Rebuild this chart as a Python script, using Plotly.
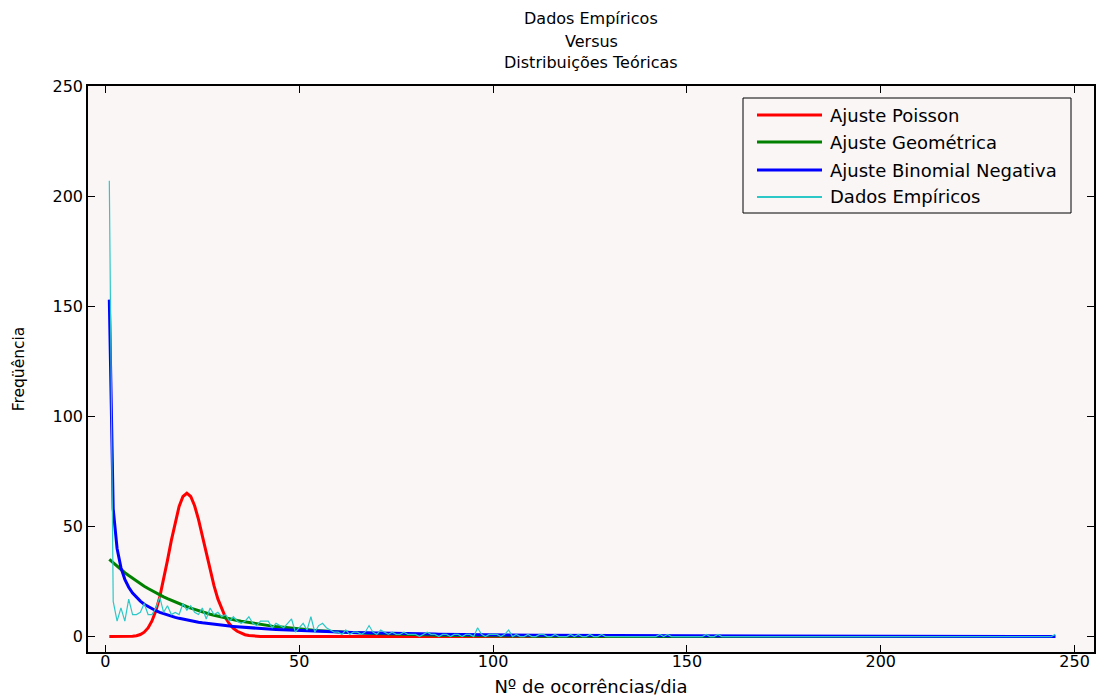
import plotly.graph_objects as go

# ---------------- data ----------------
x_vals = list(range(1, 246))

empirical = [
    207, 16, 7, 13, 7, 17, 10, 10, 11, 15,
    10, 10, 13, 18, 11, 14, 10, 11, 10, 15,
    12, 14, 11, 10, 13, 8, 13, 10, 11, 9,
    10, 7, 9, 7, 6, 7, 9, 6, 5, 7,
    7, 7, 4, 6, 5, 4, 6, 8, 2, 4,
    6, 3, 9, 2, 5, 6, 4, 3, 2, 2,
    1, 3, 1, 2, 2, 1, 2, 5, 2, 1,
    3, 2, 1, 2, 1, 1, 2, 1, 1, 1,
    0, 1, 2, 1, 1, 0, 1, 1, 0, 1,
    1, 0, 1, 1, 0, 4, 1, 0, 1, 1,
    1, 0, 1, 3, 0, 1, 0, 0, 1, 0,
    0, 1, 1, 0, 0, 1, 0, 0, 0, 1,
    0, 1, 0, 0, 1, 0, 0, 1, 0, 0,
    0, 0, 0, 0, 0, 0, 0, 0, 0, 0,
    0, 0, 1, 0, 1, 0, 0, 0, 0, 0,
    0, 0, 0, 0, 1, 0, 0, 1, 0, 0,
    0, 0, 0, 0, 0, 0, 0, 0, 0, 0,
    0, 0, 0, 0, 0, 0, 0, 0, 0, 0,
    0, 0, 0, 0, 0, 0, 0, 0, 0, 0,
    0, 0, 0, 0, 0, 0, 0, 0, 0, 0,
    0, 0, 0, 0, 0, 0, 0, 0, 0, 0,
    0, 0, 0, 0, 0, 0, 0, 0, 0, 0,
    0, 0, 0, 0, 0, 0, 0, 0, 0, 0,
    0, 0, 0, 0, 0, 0, 0, 0, 0, 0,
    0, 0, 0, 0, 1,
]

poisson = [
    0, 0, 0, 0, 0, 0.02, 0.15, 0.4, 0.94, 2.0,
    3.95, 7.1, 11.7, 17.9, 25.7, 34.6, 43.7, 52.2, 59.1, 63.6,
    65.1, 63.6, 59.4, 53.2, 45.8, 37.9, 30.1, 23.1, 17.1, 12.3,
    8.5, 5.7, 3.7, 2.4, 1.45, 0.86, 0.5, 0.28, 0.15, 0.08,
    0.04, 0.02, 0.01, 0, 0, 0, 0, 0, 0, 0,
    0, 0, 0, 0, 0, 0, 0, 0, 0, 0,
    0, 0, 0, 0, 0, 0, 0, 0, 0, 0,
    0, 0, 0, 0, 0, 0, 0, 0, 0, 0,
    0, 0, 0, 0, 0, 0, 0, 0, 0, 0,
    0, 0, 0, 0, 0, 0, 0, 0, 0, 0,
    0, 0, 0, 0, 0, 0, 0, 0, 0, 0,
    0, 0, 0, 0, 0, 0, 0, 0, 0, 0,
    0, 0, 0, 0, 0, 0, 0, 0, 0, 0,
    0, 0, 0, 0, 0, 0, 0, 0, 0, 0,
    0, 0, 0, 0, 0, 0, 0, 0, 0, 0,
    0, 0, 0, 0, 0, 0, 0, 0, 0, 0,
    0, 0, 0, 0, 0, 0, 0, 0, 0, 0,
    0, 0, 0, 0, 0, 0, 0, 0, 0, 0,
    0, 0, 0, 0, 0, 0, 0, 0, 0, 0,
    0, 0, 0, 0, 0, 0, 0, 0, 0, 0,
    0, 0, 0, 0, 0, 0, 0, 0, 0, 0,
    0, 0, 0, 0, 0, 0, 0, 0, 0, 0,
    0, 0, 0, 0, 0, 0, 0, 0, 0, 0,
    0, 0, 0, 0, 0, 0, 0, 0, 0, 0,
    0, 0, 0, 0, 0,
]

geometrica = [
    35.1, 33.5, 31.9, 30.4, 29.0, 27.7, 26.4, 25.1, 24.0, 22.9,
    21.8, 20.8, 19.8, 18.9, 18.0, 17.2, 16.4, 15.6, 14.9, 14.2,
    13.55, 12.9, 12.3, 11.74, 11.19, 10.67, 10.17, 9.7, 9.25, 8.82,
    8.41, 8.02, 7.64, 7.29, 6.95, 6.63, 6.32, 6.02, 5.74, 5.48,
    5.23, 4.98, 4.75, 4.53, 4.32, 4.12, 3.93, 3.74, 3.57, 3.41,
    3.25, 3.10, 2.95, 2.81, 2.68, 2.56, 2.44, 2.32, 2.22, 2.11,
    2.0, 1.9, 1.84, 1.75, 1.67, 1.59, 1.52, 1.45, 1.38, 1.31,
    1.25, 1.19, 1.14, 1.08, 1.03, 0.98, 0.94, 0.89, 0.85, 0.82,
    0.78, 0.74, 0.71, 0.68, 0.65, 0.62, 0.59, 0.56, 0.53, 0.51,
    0.48, 0.46, 0.44, 0.42, 0.40, 0.38, 0.36, 0.35, 0.33, 0.31,
    0.30, 0.29, 0.28, 0.26, 0.25, 0.24, 0.23, 0.22, 0.21, 0.20,
    0.19, 0.18, 0.17, 0.16, 0.15, 0.15, 0.14, 0.13, 0.13, 0.12,
    0.12, 0.11, 0.11, 0.10, 0.10, 0.09, 0.09, 0.08, 0.08, 0.08,
    0.07, 0.07, 0.07, 0.06, 0.06, 0.06, 0.05, 0.05, 0.05, 0.05,
    0.04, 0.04, 0.04, 0.04, 0.03, 0.03, 0.03, 0.03, 0.03, 0.03,
    0.02, 0.02, 0.02, 0.02, 0.02, 0.02, 0.02, 0.02, 0.02, 0.02,
    0.01, 0.01, 0.01, 0.01, 0.01, 0.01, 0.01, 0.01, 0.01, 0.01,
    0.01, 0.01, 0.01, 0.01, 0.01, 0.01, 0.01, 0.01, 0.01, 0.01,
    0, 0, 0, 0, 0, 0, 0, 0, 0, 0,
    0, 0, 0, 0, 0, 0, 0, 0, 0, 0,
    0, 0, 0, 0, 0, 0, 0, 0, 0, 0,
    0, 0, 0, 0, 0, 0, 0, 0, 0, 0,
    0, 0, 0, 0, 0, 0, 0, 0, 0, 0,
    0, 0, 0, 0, 0, 0, 0, 0, 0, 0,
    0, 0, 0, 0, 0,
]

binomial_negativa = [
    153, 58, 40, 31.3, 26.0, 22.4, 19.8, 17.7, 16.1, 14.7,
    13.6, 12.6, 11.75, 11.0, 10.34, 9.75, 9.21, 8.73, 8.29, 7.88,
    7.51, 7.17, 6.85, 6.55, 6.28, 6.02, 5.78, 5.55, 5.34, 5.14,
    4.95, 4.77, 4.60, 4.44, 4.29, 4.15, 4.01, 3.88, 3.75, 3.63,
    3.52, 3.41, 3.30, 3.20, 3.11, 3.01, 2.92, 2.84, 2.76, 2.68,
    2.60, 2.53, 2.46, 2.39, 2.33, 2.27, 2.21, 2.15, 2.09, 2.04,
    1.99, 1.94, 1.89, 1.84, 1.80, 1.75, 1.71, 1.67, 1.63, 1.59,
    1.55, 1.52, 1.48, 1.45, 1.41, 1.38, 1.35, 1.32, 1.29, 1.26,
    1.23, 1.20, 1.17, 1.15, 1.12, 1.10, 1.07, 1.05, 1.03, 1.00,
    0.98, 0.96, 0.94, 0.92, 0.90, 0.88, 0.86, 0.84, 0.82, 0.80,
    0.79, 0.77, 0.75, 0.74, 0.72, 0.71, 0.69, 0.68, 0.66, 0.65,
    0.64, 0.62, 0.61, 0.60, 0.59, 0.57, 0.56, 0.55, 0.54, 0.53,
    0.52, 0.51, 0.50, 0.49, 0.48, 0.47, 0.46, 0.45, 0.44, 0.43,
    0.42, 0.41, 0.40, 0.39, 0.39, 0.38, 0.37, 0.36, 0.36, 0.35,
    0.34, 0.33, 0.33, 0.32, 0.31, 0.31, 0.30, 0.29, 0.29, 0.28,
    0.28, 0.27, 0.27, 0.26, 0.26, 0.25, 0.25, 0.24, 0.24, 0.23,
    0.23, 0.22, 0.22, 0.21, 0.21, 0.21, 0.20, 0.20, 0.19, 0.19,
    0.19, 0.18, 0.18, 0.18, 0.17, 0.17, 0.17, 0.16, 0.16, 0.16,
    0.15, 0.15, 0.15, 0.15, 0.14, 0.14, 0.14, 0.13, 0.13, 0.13,
    0.13, 0.12, 0.12, 0.12, 0.12, 0.11, 0.11, 0.11, 0.11, 0.11,
    0.10, 0.10, 0.10, 0.10, 0.10, 0.09, 0.09, 0.09, 0.09, 0.09,
    0.09, 0.08, 0.08, 0.08, 0.08, 0.08, 0.08, 0.07, 0.07, 0.07,
    0.07, 0.07, 0.07, 0.07, 0.06, 0.06, 0.06, 0.06, 0.06, 0.06,
    0.06, 0.06, 0.05, 0.05, 0.05, 0.05, 0.05, 0.05, 0.05, 0.05,
    0.05, 0.05, 0.05, 0.05, 0.05,
]

series_names = ["Ajuste Poisson", "Ajuste Geométrica",
                "Ajuste Binomial Negativa", "Dados Empíricos"]
title_lines = ["Dados Empíricos", "Versus", "Distribuições Teóricas"]
tick_values = [0, 50, 100, 150, 200, 250]

for s in (empirical, poisson, geometrica, binomial_negativa):
    assert len(s) == len(x_vals), len(s)

# ---------------- styling ----------------
FONT = "DejaVu Sans, Verdana, sans-serif"
PLOT_BG = "#FAF6F5"
colors = ["#FF0000", "#008000", "#0000FF", "#2CC8C8"]
widths = [3, 3, 3, 1.2]
series_data = [poisson, geometrica, binomial_negativa, empirical]

W, H = 1118, 697
L, R, T, B = 88, 24, 86, 45


def px_x(p):
    return (p - L) / (W - L - R)


def px_y(p):
    return (H - B - p) / (H - T - B)


fig = go.Figure()
for name, ys, c, w in zip(series_names, series_data, colors, widths):
    fig.add_trace(go.Scatter(x=x_vals, y=ys, mode="lines", name=name,
                             line=dict(color=c, width=w), showlegend=False))

# ---- legend box (drawn as in the reference: long line samples) ----
shapes = [dict(type="rect", xref="paper", yref="paper",
               x0=px_x(743), x1=px_x(1071), y0=px_y(213), y1=px_y(98),
               fillcolor=PLOT_BG, line=dict(color="black", width=1),
               layer="above")]
annotations = []
legend_rows = [115, 142, 170, 197]
legend_widths = [3, 3, 3, 2]
for name, c, lw, yy in zip(series_names, colors, legend_widths, legend_rows):
    shapes.append(dict(type="line", xref="paper", yref="paper",
                       x0=px_x(757), x1=px_x(822), y0=px_y(yy), y1=px_y(yy),
                       line=dict(color=c, width=lw), layer="above"))
    annotations.append(dict(text=name, xref="paper", yref="paper",
                            x=px_x(828), y=px_y(yy), xanchor="left",
                            yanchor="middle", showarrow=False,
                            font=dict(family=FONT, size=18, color="black")))

# ---- title (three centred lines) ----
for line, yy in zip(title_lines, [18, 41, 63]):
    annotations.append(dict(text=line, xref="paper", yref="paper",
                            x=0.5, y=px_y(yy), xanchor="center",
                            yanchor="middle", showarrow=False,
                            font=dict(family=FONT, size=16, color="black")))

fig.update_layout(
    width=W, height=H,
    paper_bgcolor="white",
    plot_bgcolor=PLOT_BG,
    margin=dict(l=L, r=R, t=T, b=B, autoexpand=False),
    font=dict(family=FONT, size=16, color="black"),
    showlegend=False,
    shapes=shapes,
    annotations=annotations,
)

fig.update_xaxes(
    range=[-4.5, 255],
    tickvals=tick_values,
    ticks="inside", ticklen=7, tickwidth=1, tickcolor="black",
    showline=True, linecolor="black", linewidth=1.5, mirror="ticks",
    showgrid=False, zeroline=False, automargin=False,
    ticklabelstandoff=-6,
    tickfont=dict(family=FONT, size=16, color="black"),
    title=dict(text="Nº de ocorrências/dia", standoff=14,
               font=dict(family=FONT, size=18, color="black")),
)
fig.update_yaxes(
    range=[-7, 250],
    tickvals=tick_values,
    ticks="inside", ticklen=7, tickwidth=1, tickcolor="black",
    showline=True, linecolor="black", linewidth=1.5, mirror="ticks",
    showgrid=False, zeroline=False, automargin=False,
    tickfont=dict(family=FONT, size=16, color="black"),
    title=dict(text="Freqüência", standoff=24,
               font=dict(family=FONT, size=15.5, color="black")),
)

fig.write_html("out.html",
               config={"displayModeBar": False},
               post_script="document.body.style.margin='0';")
